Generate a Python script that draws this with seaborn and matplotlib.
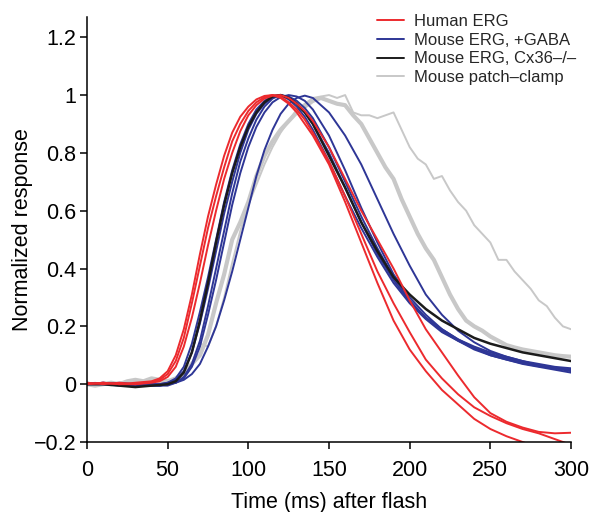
import matplotlib
matplotlib.use("Agg")
import matplotlib.pyplot as plt
from matplotlib.lines import Line2D
import pandas as pd
import seaborn as sns

# ---------------- data ----------------
# ERG sampling times (ms): 10 ms steps, 5 ms steps through the rise and peak
t_erg = [0, 10, 20, 30,
         40, 45, 50, 55, 60, 65, 70, 75, 80, 85, 90, 95, 100, 105, 110, 115, 120, 125, 130, 135, 140,
         150, 160, 170, 180, 190, 200, 210, 220, 230, 240, 250, 260, 270, 280, 290, 300]
# patch-clamp sampling times (ms)
t_patch = list(range(0, 301, 5))

human_a = [0.0, 0.005, 0.0, 0.005,
           0.01, 0.02, 0.045, 0.1, 0.19, 0.31, 0.45, 0.58, 0.69, 0.79, 0.87, 0.925, 0.96, 0.985, 0.997, 1.0,
           0.99, 0.97, 0.94, 0.9, 0.86,
           0.76, 0.63, 0.49, 0.35, 0.22, 0.12, 0.045, -0.02, -0.07, -0.12, -0.155, -0.18, -0.2, -0.22, -0.235, -0.25]
human_b = [0.005, 0.0, 0.005, 0.0,
           0.008, 0.015, 0.035, 0.08, 0.16, 0.28, 0.41, 0.54, 0.65, 0.75, 0.84, 0.9, 0.945, 0.975, 0.993, 1.0,
           0.995, 0.975, 0.95, 0.915, 0.87,
           0.77, 0.65, 0.52, 0.39, 0.28, 0.18, 0.085, 0.02, -0.035, -0.08, -0.11, -0.135, -0.155, -0.17, -0.19, -0.21]
human_c = [0.0, 0.005, 0.0, 0.0,
           0.005, 0.01, 0.025, 0.06, 0.13, 0.23, 0.35, 0.48, 0.6, 0.71, 0.8, 0.875, 0.93, 0.965, 0.988, 0.998,
           1.0, 0.99, 0.97, 0.945, 0.91,
           0.82, 0.71, 0.6, 0.5, 0.4, 0.29, 0.19, 0.11, 0.03, -0.045, -0.1, -0.13, -0.15, -0.165, -0.17, -0.168]

gaba_1 = [0.0, 0.005, 0.0, -0.005,
          0.0, 0.0, 0.005, 0.02, 0.06, 0.14, 0.25, 0.37, 0.5, 0.63, 0.74, 0.83, 0.9, 0.95, 0.98, 0.997,
          1.0, 0.985, 0.96, 0.925, 0.88,
          0.77, 0.65, 0.54, 0.44, 0.35, 0.28, 0.225, 0.18, 0.15, 0.12, 0.1, 0.085, 0.072, 0.062, 0.055, 0.05]
gaba_2 = [0.0, 0.0, -0.005, -0.005,
          0.0, -0.005, -0.005, 0.005, 0.025, 0.07, 0.15, 0.27, 0.4, 0.53, 0.66, 0.77, 0.85, 0.915, 0.96, 0.988,
          1.0, 0.995, 0.98, 0.955, 0.92,
          0.82, 0.7, 0.58, 0.47, 0.37, 0.29, 0.23, 0.185, 0.15, 0.125, 0.105, 0.09, 0.075, 0.065, 0.055, 0.045]
gaba_3 = [0.005, 0.0, 0.0, -0.005,
          -0.005, -0.005, 0.0, 0.005, 0.02, 0.06, 0.13, 0.24, 0.36, 0.49, 0.62, 0.73, 0.82, 0.89, 0.94, 0.975,
          0.993, 1.0, 0.995, 0.98, 0.95,
          0.86, 0.74, 0.61, 0.49, 0.38, 0.3, 0.24, 0.19, 0.155, 0.125, 0.1, 0.085, 0.07, 0.06, 0.05, 0.04]
gaba_4 = [0.0, 0.0, 0.005, 0.0,
          0.0, 0.0, 0.005, 0.015, 0.045, 0.11, 0.21, 0.33, 0.46, 0.59, 0.7, 0.8, 0.88, 0.935, 0.97, 0.992,
          1.0, 0.99, 0.97, 0.94, 0.9,
          0.8, 0.68, 0.56, 0.45, 0.36, 0.285, 0.23, 0.19, 0.155, 0.13, 0.11, 0.095, 0.08, 0.07, 0.06, 0.055]
gaba_5 = [0.0, 0.005, 0.0, -0.005,
          -0.005, -0.005, 0.0, 0.005, 0.015, 0.035, 0.07, 0.13, 0.2, 0.29, 0.39, 0.5, 0.61, 0.72, 0.81, 0.88,
          0.935, 0.97, 0.99, 0.998, 0.99,
          0.94, 0.86, 0.76, 0.64, 0.52, 0.41, 0.31, 0.24, 0.185, 0.145, 0.115, 0.095, 0.08, 0.065, 0.055, 0.05]

cx36 = [0.0, 0.0, -0.005, -0.01,
        -0.005, -0.003, 0.0, 0.01, 0.04, 0.11, 0.22, 0.35, 0.49, 0.62, 0.73, 0.82, 0.89, 0.94, 0.975, 0.995,
        1.0, 0.99, 0.97, 0.94, 0.9,
        0.79, 0.68, 0.56, 0.46, 0.37, 0.31, 0.26, 0.22, 0.19, 0.16, 0.14, 0.125, 0.11, 0.1, 0.09, 0.08]

patch_thick = [0.0, -0.005, 0.0, 0.005, 0.0, 0.01, 0.015, 0.01, 0.02, 0.015, 0.01, 0.02, 0.04, 0.07, 0.1,
               0.17, 0.28, 0.38, 0.5, 0.56, 0.63, 0.72, 0.79, 0.84, 0.88, 0.91, 0.94, 0.96, 0.98, 0.99,
               0.98, 0.97, 0.965, 0.93, 0.9, 0.85, 0.8, 0.75, 0.71, 0.64, 0.58, 0.52, 0.47, 0.43, 0.37,
               0.31, 0.26, 0.22, 0.2, 0.185, 0.165, 0.15, 0.135, 0.127, 0.12, 0.115, 0.11, 0.105, 0.1,
               0.097, 0.095]
patch_thin = [0.0, 0.005, 0.0, -0.005, 0.0, 0.01, 0.0, 0.005, 0.015, 0.005, 0.01, 0.02, 0.03, 0.07, 0.14,
              0.13, 0.2, 0.3, 0.42, 0.53, 0.62, 0.69, 0.76, 0.82, 0.87, 0.91, 0.95, 0.97, 0.99, 0.995,
              1.0, 0.99, 1.0, 0.94, 0.93, 0.93, 0.92, 0.93, 0.94, 0.88, 0.82, 0.78, 0.76, 0.71, 0.72,
              0.67, 0.63, 0.6, 0.55, 0.52, 0.49, 0.43, 0.43, 0.39, 0.36, 0.33, 0.29, 0.27, 0.23, 0.2, 0.19]

legend_labels = ["Human ERG", "Mouse ERG, +GABA", "Mouse ERG, Cx36\u2013/\u2013", "Mouse patch\u2013clamp"]
x_ticks = [0, 50, 100, 150, 200, 250, 300]
y_ticks = [-0.2, 0, 0.2, 0.4, 0.6, 0.8, 1.0, 1.2]
y_ticklabels = ["\u22120.2", "0", "0.2", "0.4", "0.6", "0.8", "1", "1.2"]

# ---------------- style ----------------
RED = "#ec2a2e"
BLUE = "#2e3696"
BLACK = "#1b1b1b"
GRAY = "#c8c8c8"

sns.set_theme(style="ticks")
plt.rcParams["font.family"] = ["Liberation Sans", "DejaVu Sans"]

fig = plt.figure(figsize=(5.92, 5.12), dpi=100)
ax = fig.add_axes([87 / 592, 1 - 442 / 512, 484 / 592, 425 / 512])

traces = [
    (t_patch, patch_thick, GRAY, 3.0),
    (t_patch, patch_thin, GRAY, 1.4),
    (t_erg, gaba_1, BLUE, 1.4),
    (t_erg, gaba_2, BLUE, 1.4),
    (t_erg, gaba_3, BLUE, 1.4),
    (t_erg, gaba_4, BLUE, 1.4),
    (t_erg, gaba_5, BLUE, 1.4),
    (t_erg, cx36, BLACK, 1.8),
    (t_erg, human_a, RED, 1.4),
    (t_erg, human_b, RED, 1.4),
    (t_erg, human_c, RED, 1.4),
]
for tt, yy, col, lw in traces:
    df = pd.DataFrame({"t": tt, "y": yy})
    sns.lineplot(data=df, x="t", y="y", color=col, linewidth=lw, ax=ax,
                 estimator=None, sort=False, legend=False)

ax.set_xlim(0, 300)
ax.set_ylim(-0.2, 1.27)
ax.set_xticks(x_ticks)
ax.set_xticklabels([str(v) for v in x_ticks])
ax.set_yticks(y_ticks)
ax.set_yticklabels(y_ticklabels)
sns.despine(ax=ax)
for s in ["left", "bottom"]:
    ax.spines[s].set_linewidth(1.1)
    ax.spines[s].set_color("black")
ax.tick_params(axis="both", direction="out", length=5, width=1.1, colors="black",
               labelsize=15.5)
ax.tick_params(axis="x", pad=8)
ax.tick_params(axis="y", pad=2.5)
ax.set_xlabel("Time (ms) after flash", fontsize=15.5, color="black", labelpad=8)
ax.set_ylabel("Normalized response", fontsize=15.5, color="black", labelpad=1)

handles = [Line2D([], [], color=c, lw=1.4) for c in [RED, BLUE, BLACK, GRAY]]
ax.legend(handles, legend_labels, loc="upper left", bbox_to_anchor=(0.599, 1.007),
          frameon=False, fontsize=12, handlelength=1.65, handletextpad=0.6,
          labelspacing=0.22, borderaxespad=0, borderpad=0)

fig.savefig("out.png", dpi=100)
